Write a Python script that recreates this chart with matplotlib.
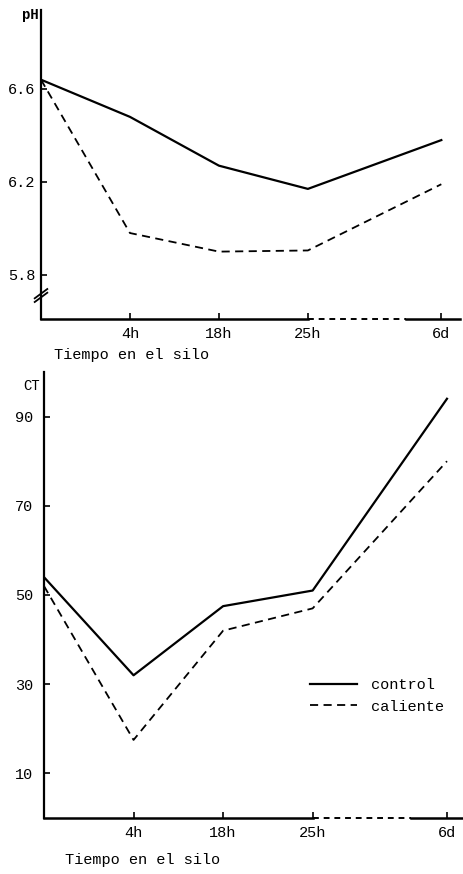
import matplotlib
matplotlib.use("Agg")
import matplotlib.pyplot as plt
import matplotlib.transforms as mtransforms

plt.rcParams['font.family'] = ['Liberation Mono', 'DejaVu Sans Mono']

# tiempo en el silo (posiciones en el eje: 25h -> 6d tramo cortado)
tiempos = ['4h', '18h', '25h', '6d']
x_pos = [0, 1, 2, 3, 4.5]

ph_control = [6.64, 6.48, 6.27, 6.17, 6.38]
ph_caliente = [6.64, 5.98, 5.90, 5.905, 6.19]

ct_control = [54, 32, 47.5, 51, 94]
ct_caliente = [52, 17.5, 42, 47, 80]

series = ['control', 'caliente']

W, H = 464, 874
fig = plt.figure(figsize=(W / 100, H / 100), dpi=100)


def panel(left, bottom, right, top):
    return fig.add_axes([left / W, 1 - bottom / H, (right - left) / W, (bottom - top) / H])


def style(ax, xmax):
    for s in ['top', 'right', 'bottom']:
        ax.spines[s].set_visible(False)
    ax.spines['left'].set_linewidth(1.6)
    ax.set_xlim(0, xmax)
    ax.set_xticks(x_pos[1:])
    ax.set_xticklabels(tiempos, fontsize=11)
    ax.tick_params(direction='in', length=4, width=1.2, pad=6, labelsize=11)
    ax.tick_params(axis='y', pad=4)
    # eje x: continuo hasta 25h, cortado hasta 6d
    tr = mtransforms.blended_transform_factory(ax.transData, ax.transAxes)
    ax.plot([0, x_pos[3]], [0, 0], color='k', lw=1.8, transform=tr, clip_on=False)
    ax.plot([x_pos[3], 4.1], [0, 0], color='k', lw=1.4, ls=(0, (3, 2.5)),
            transform=tr, clip_on=False)
    ax.plot([4.1, xmax], [0, 0], color='k', lw=1.8, transform=tr, clip_on=False)


# --- pH ---
ax1 = panel(41, 319, 460, 10)
ax1.plot(x_pos, ph_control, color='k', lw=1.6, label=series[0])
ax1.plot(x_pos, ph_caliente, color='k', lw=1.3, ls=(0, (4.5, 3)), label=series[1])
ax1.set_ylim(5.61, 6.94)
ax1.set_yticks([5.8, 6.2, 6.6])
ax1.set_yticklabels(['5.8', '6.2', '6.6'])
style(ax1, 4.71)
# marca de corte del eje y
for dy in [0.0, 0.012]:
    ax1.plot([-0.015, 0.015], [0.055 + dy, 0.085 + dy], color='k', lw=1.3,
             transform=ax1.transAxes, clip_on=False)
ax1.text(-0.005, 1.005, 'pH', transform=ax1.transAxes, ha='right', va='top', fontsize=10,
         fontweight='bold')
ax1.text(0.03, -0.095, 'Tiempo en el silo', transform=ax1.transAxes, ha='left', va='top',
         fontsize=11)

# --- CT ---
ax2 = panel(44, 818, 464, 372)
ax2.plot(x_pos, ct_control, color='k', lw=1.6, label=series[0])
ax2.plot(x_pos, ct_caliente, color='k', lw=1.3, ls=(0, (4.5, 3)), label=series[1])
ax2.set_ylim(0, 100)
ax2.set_yticks([10, 30, 50, 70, 90])
style(ax2, 4.69)
ax2.tick_params(axis='y', pad=8)
ax2.text(-0.01, 0.985, 'CT', transform=ax2.transAxes, ha='right', va='top', fontsize=10)
ax2.text(0.05, -0.078, 'Tiempo en el silo', transform=ax2.transAxes, ha='left', va='top',
         fontsize=11)
ax2.legend(loc='upper left', bbox_to_anchor=(0.6, 0.345), frameon=False, fontsize=11,
           handlelength=3.1, handletextpad=0.9, labelspacing=0.5)

fig.savefig('out.png', dpi=100)
